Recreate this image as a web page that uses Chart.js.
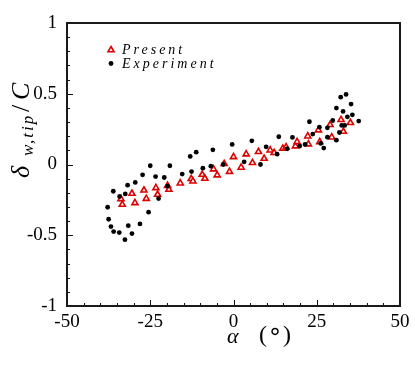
<!DOCTYPE html>
<html><head><meta charset="utf-8">
<script src="https://cdn.jsdelivr.net/npm/chart.js@4/dist/chart.umd.min.js"></script>
<style>html,body{margin:0;padding:0;background:#fff}</style>
</head><body>
<canvas id="c" width="415" height="369"></canvas>
<script>
// ---- data ----
const presentAlpha = [-33.8,-33.4,-30.5,-29.6,-26.9,-26.2,-23.3,-22.8,-19.8,-19.4,-16.0,-12.7,-12.2,-9.4,-8.6,-6.0,-4.9,-2.8,-1.2,0.0,2.3,3.8,5.7,7.5,9.2,11.0,12.2,14.8,15.8,18.6,19.1,22.3,22.5,25.5,25.9,29.0,29.5,32.3,33.0,35.1];
const presentDelta = [-0.243,-0.283,-0.205,-0.271,-0.182,-0.241,-0.165,-0.212,-0.149,-0.177,-0.132,-0.101,-0.118,-0.071,-0.099,-0.033,-0.075,0.005,-0.050,0.054,-0.021,0.073,0.012,0.090,0.042,0.101,0.083,0.113,0.123,0.130,0.160,0.200,0.144,0.243,0.160,0.281,0.193,0.316,0.233,0.295];
const expAlpha = [-37.8,-37.5,-36.8,-36.1,-36.0,-34.2,-34.3,-32.6,-32.5,-31.8,-31.6,-30.5,-29.5,-28.1,-27.3,-25.5,-25.0,-23.4,-22.5,-20.8,-19.8,-19.1,-15.4,-13.0,-12.6,-11.2,-9.2,-6.8,-6.2,-3.1,-0.4,3.2,5.5,8.1,9.8,13.1,13.6,16.1,17.7,19.9,21.5,22.8,23.8,25.8,26.2,27.1,28.2,28.2,29.8,30.9,30.9,31.8,32.2,32.5,32.9,33.4,33.8,34.2,35.3,35.7,37.6];
const expDelta = [-0.302,-0.387,-0.439,-0.189,-0.474,-0.226,-0.481,-0.531,-0.208,-0.146,-0.432,-0.488,-0.127,-0.420,-0.073,-0.337,-0.009,-0.085,-0.241,-0.092,-0.153,-0.009,-0.068,0.057,-0.050,0.087,-0.026,-0.012,0.104,0.000,0.142,0.019,0.167,0.000,0.125,0.073,0.196,0.111,0.191,0.130,0.142,0.302,0.215,0.264,0.149,0.116,0.259,0.193,0.311,0.399,0.172,0.226,0.476,0.276,0.375,0.276,0.495,0.337,0.427,0.351,0.307];
const xTickValues = [-50,-25,0,25,50];
const yTickValues = [-1,-0.5,0,0.5,1];
const yTickLabels = ['-1','-0.5','0','0.5','1'];
const xTickLabels = ['-50','-25','0','25','50'];
const xMinorStep = 5;
const yMinorStep = 0.1;
const seriesNames = ['Present','Experiment'];

const RED = '#dd0000';
const SERIF = '"Liberation Serif","Times New Roman","DejaVu Serif",serif';

const frame = {
  id: 'frame',
  afterDraw(chart) {
    const c = chart.ctx, a = chart.chartArea;
    const xs = chart.scales.x, ys = chart.scales.y;
    c.save();
    c.strokeStyle = '#111';
    // inward ticks
    c.lineWidth = 1;
    c.beginPath();
    for (let v = xs.min; v <= xs.max + 1e-9; v += xMinorStep) {
      const px = Math.round(xs.getPixelForValue(v)) + 0.5;
      const major = xTickValues.some(t => Math.abs(t - v) < 1e-6);
      const L = major ? 6 : 3;
      c.moveTo(px, a.bottom); c.lineTo(px, a.bottom - L);
    }
    for (let v = ys.min; v <= ys.max + 1e-9; v += yMinorStep) {
      const py = Math.round(ys.getPixelForValue(v)) + 0.5;
      const major = yTickValues.some(t => Math.abs(t - v) < 1e-6);
      const L = major ? 6 : 3;
      c.moveTo(a.left, py); c.lineTo(a.left + L, py);
    }
    c.stroke();
    // frame
    c.lineWidth = 2;
    c.strokeStyle = '#1a1a1a';
    c.strokeRect(a.left, a.top, a.right - a.left, a.bottom - a.top);

    // legend
    const ds = chart.data.datasets;
    c.font = 'italic 14px ' + SERIF;
    c.letterSpacing = '3px';
    c.textBaseline = 'alphabetic';
    c.textAlign = 'left';
    const tr = 3.5, tx = 111, ty = 50;
    c.beginPath();
    c.moveTo(tx, ty - tr);
    c.lineTo(tx + tr * Math.sin(2*Math.PI/3), ty - tr * Math.cos(2*Math.PI/3));
    c.lineTo(tx + tr * Math.sin(4*Math.PI/3), ty - tr * Math.cos(4*Math.PI/3));
    c.closePath();
    c.fillStyle = '#fff'; c.fill();
    c.lineWidth = 1.6; c.strokeStyle = RED; c.stroke();
    c.fillStyle = '#000';
    c.fillText(ds[0].label, 122, 54);
    c.beginPath(); c.arc(111, 63.5, 2.4, 0, Math.PI*2); c.fill();
    c.fillText(ds[1].label, 122, 67.5);
    c.letterSpacing = '0px';

    // x title  α (∘)
    c.font = 'italic 22px ' + SERIF;
    c.fillText('α', 227, 343);
    c.font = '24px ' + SERIF;
    c.fillText('(', 259, 342);
    c.fillText(')', 283, 342);
    c.textAlign = 'center';
    c.textBaseline = 'middle';
    c.font = '24px "DejaVu Sans",sans-serif';
    c.fillText('∘', 275, 333);
    c.textAlign = 'left';
    c.textBaseline = 'alphabetic';

    // y title  δ_{w,tip}/C (rotated)
    c.save();
    c.translate(29, 180);
    c.rotate(-Math.PI/2);
    c.font = 'italic 26px ' + SERIF;
    c.fillText('δ', 2, 0);
    c.font = 'italic 17px ' + SERIF;
    c.letterSpacing = '2px';
    c.fillText('w,tip', 24, 4);
    c.letterSpacing = '0px';
    c.font = '26px ' + SERIF;
    c.fillText('/', 68, 0);
    c.font = 'italic 26px ' + SERIF;
    c.fillText('C', 80, 0);
    c.restore();
    c.restore();
  }
};

function build() {
  new Chart(document.getElementById('c'), {
    type: 'scatter',
    data: { datasets: [
      { label: seriesNames[0], data: presentAlpha.map((a,i)=>({x:a,y:presentDelta[i]})),
        pointStyle:'triangle', radius:3.5, borderColor:RED, backgroundColor:'#fff', borderWidth:1.6, order:1 },
      { label: seriesNames[1], data: expAlpha.map((a,i)=>({x:a,y:expDelta[i]})),
        pointStyle:'circle', radius:2.4, borderColor:'#000', backgroundColor:'#000', borderWidth:0, order:0 }
    ]},
    options: {
      responsive:false, animation:false, devicePixelRatio:1,
      layout:{padding:{left:0,right:15,top:23,bottom:0}},
      plugins:{legend:{display:false}, tooltip:{enabled:false}},
      scales:{
        x:{ type:'linear', min:-50, max:50,
          afterBuildTicks: s => { s.ticks = xTickValues.map(v=>({value:v})); },
          afterFit: s => { s.height = 63; },
          grid:{display:false, drawTicks:false}, border:{display:false},
          ticks:{font:{family:SERIF, size:19}, color:'#000', padding:5, maxRotation:0, autoSkip:false,
                 callback:(v,i)=>xTickLabels[i]} },
        y:{ type:'linear', min:-1, max:1,
          afterBuildTicks: s => { s.ticks = yTickValues.map(v=>({value:v})); },
          afterFit: s => { s.width = 67; },
          grid:{display:false, drawTicks:false}, border:{display:false},
          ticks:{font:{family:SERIF, size:19}, color:'#000', padding:10, autoSkip:false,
                 callback:(v,i)=>yTickLabels[i]} }
      }
    },
    plugins:[frame]
  });
}
Promise.all([
  document.fonts.load('19px "Liberation Serif"'),
  document.fonts.load('italic 19px "Liberation Serif"')
]).then(build, build);
</script>
</body></html>
